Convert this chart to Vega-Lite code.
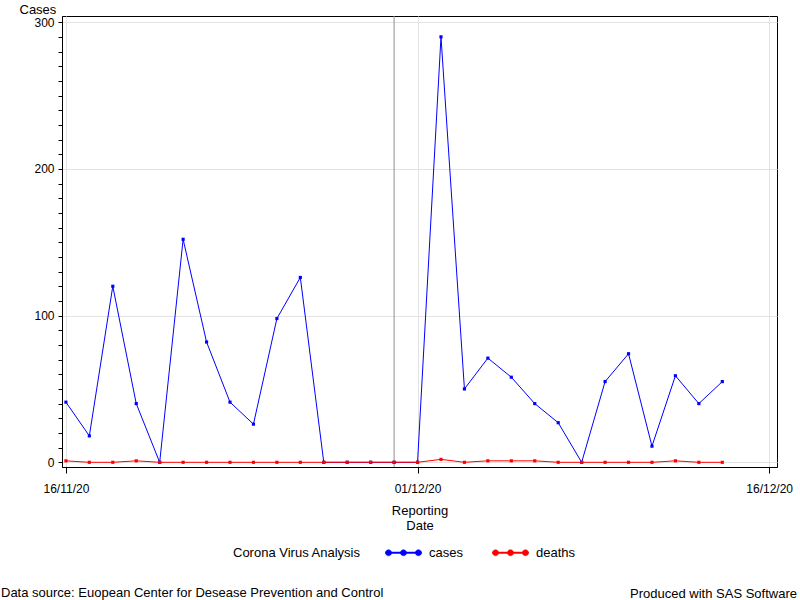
{
  "$schema": "https://vega.github.io/schema/vega-lite/v6.json",
  "width": 715,
  "height": 451,
  "autosize": {"type": "none"},
  "padding": {"left": 62, "top": 16, "right": 23, "bottom": 133},
  "background": "white",
  "config": {
    "font": "Liberation Sans",
    "view": {"stroke": "black", "strokeWidth": 1},
    "axis": {
      "domainColor": "black",
      "tickColor": "black",
      "labelColor": "black",
      "titleColor": "black",
      "labelFont": "Liberation Sans",
      "titleFont": "Liberation Sans",
      "labelFontSize": 12,
      "titleFontSize": 13,
      "titleFontWeight": "normal",
      "gridColor": "#e3e3e3"
    },
    "legend": {
      "labelFont": "Liberation Sans",
      "titleFont": "Liberation Sans"
    }
  },
  "title": {
    "text": "Data source: Euopean Center for Desease Prevention and Control",
    "orient": "bottom",
    "anchor": "start",
    "frame": "bounds",
    "font": "Liberation Sans",
    "fontSize": 13,
    "fontWeight": "normal",
    "color": "black",
    "offset": -14,
    "dx": -18
  },
  "data": {
    "values": [
      {"date": "2020/11/16", "series": "cases", "value": 41},
      {"date": "2020/11/17", "series": "cases", "value": 18},
      {"date": "2020/11/18", "series": "cases", "value": 120},
      {"date": "2020/11/19", "series": "cases", "value": 40},
      {"date": "2020/11/20", "series": "cases", "value": 0},
      {"date": "2020/11/21", "series": "cases", "value": 152},
      {"date": "2020/11/22", "series": "cases", "value": 82},
      {"date": "2020/11/23", "series": "cases", "value": 41},
      {"date": "2020/11/24", "series": "cases", "value": 26},
      {"date": "2020/11/25", "series": "cases", "value": 98},
      {"date": "2020/11/26", "series": "cases", "value": 126},
      {"date": "2020/11/27", "series": "cases", "value": 0},
      {"date": "2020/11/28", "series": "cases", "value": 0},
      {"date": "2020/11/29", "series": "cases", "value": 0},
      {"date": "2020/11/30", "series": "cases", "value": 0},
      {"date": "2020/12/01", "series": "cases", "value": 0},
      {"date": "2020/12/02", "series": "cases", "value": 290},
      {"date": "2020/12/03", "series": "cases", "value": 50},
      {"date": "2020/12/04", "series": "cases", "value": 71},
      {"date": "2020/12/05", "series": "cases", "value": 58},
      {"date": "2020/12/06", "series": "cases", "value": 40},
      {"date": "2020/12/07", "series": "cases", "value": 27},
      {"date": "2020/12/08", "series": "cases", "value": 0},
      {"date": "2020/12/09", "series": "cases", "value": 55},
      {"date": "2020/12/10", "series": "cases", "value": 74},
      {"date": "2020/12/11", "series": "cases", "value": 11},
      {"date": "2020/12/12", "series": "cases", "value": 59},
      {"date": "2020/12/13", "series": "cases", "value": 40},
      {"date": "2020/12/14", "series": "cases", "value": 55},
      {"date": "2020/11/16", "series": "deaths", "value": 1},
      {"date": "2020/11/17", "series": "deaths", "value": 0},
      {"date": "2020/11/18", "series": "deaths", "value": 0},
      {"date": "2020/11/19", "series": "deaths", "value": 1},
      {"date": "2020/11/20", "series": "deaths", "value": 0},
      {"date": "2020/11/21", "series": "deaths", "value": 0},
      {"date": "2020/11/22", "series": "deaths", "value": 0},
      {"date": "2020/11/23", "series": "deaths", "value": 0},
      {"date": "2020/11/24", "series": "deaths", "value": 0},
      {"date": "2020/11/25", "series": "deaths", "value": 0},
      {"date": "2020/11/26", "series": "deaths", "value": 0},
      {"date": "2020/11/27", "series": "deaths", "value": 0},
      {"date": "2020/11/28", "series": "deaths", "value": 0},
      {"date": "2020/11/29", "series": "deaths", "value": 0},
      {"date": "2020/11/30", "series": "deaths", "value": 0},
      {"date": "2020/12/01", "series": "deaths", "value": 0},
      {"date": "2020/12/02", "series": "deaths", "value": 2},
      {"date": "2020/12/03", "series": "deaths", "value": 0},
      {"date": "2020/12/04", "series": "deaths", "value": 1},
      {"date": "2020/12/05", "series": "deaths", "value": 1},
      {"date": "2020/12/06", "series": "deaths", "value": 1},
      {"date": "2020/12/07", "series": "deaths", "value": 0},
      {"date": "2020/12/08", "series": "deaths", "value": 0},
      {"date": "2020/12/09", "series": "deaths", "value": 0},
      {"date": "2020/12/10", "series": "deaths", "value": 0},
      {"date": "2020/12/11", "series": "deaths", "value": 0},
      {"date": "2020/12/12", "series": "deaths", "value": 1},
      {"date": "2020/12/13", "series": "deaths", "value": 0},
      {"date": "2020/12/14", "series": "deaths", "value": 0}
    ]
  },
  "encoding": {
    "x": {
      "field": "date",
      "type": "temporal",
      "scale": {
        "domain": [
          {"year": 2020, "month": 11, "date": 15, "hours": 20},
          {"year": 2020, "month": 12, "date": 16, "hours": 8}
        ]
      },
      "axis": {
        "values": [
          {"year": 2020, "month": 11, "date": 16},
          {"year": 2020, "month": 12, "date": 1},
          {"year": 2020, "month": 12, "date": 16}
        ],
        "format": "%d/%m/%y",
        "tickSize": 6,
        "labelPadding": 10,
        "labelOverlap": false,
        "title": ["Reporting", "Date"],
        "titleLineHeight": 15,
        "titlePadding": 10,
        "grid": true
      }
    },
    "y": {
      "field": "value",
      "type": "quantitative",
      "scale": {"domain": [-3.2, 304.2], "nice": false, "zero": false},
      "axis": {
        "values": [0, 10, 20, 30, 40, 50, 60, 70, 80, 90, 100, 110, 120, 130, 140, 150, 160, 170, 180, 190, 200, 210, 220, 230, 240, 250, 260, 270, 280, 290, 300],
        "labelExpr": "datum.value % 100 === 0 ? datum.label : ''",
        "tickSize": 4,
        "labelPadding": 4,
        "grid": true,
        "gridOpacity": {"condition": {"test": "datum.value % 100 === 0", "value": 1}, "value": 0},
        "title": "Cases",
        "titleAngle": 0,
        "titleAlign": "left",
        "titleBaseline": "alphabetic",
        "titleX": -43,
        "titleY": -3
      }
    }
  },
  "layer": [
    {
      "data": {"values": [{"date": "2020/11/30"}]},
      "mark": {"type": "rule", "color": "#8f8f8f", "strokeWidth": 1},
      "encoding": {"y": null}
    },
    {
      "mark": {"type": "line", "strokeWidth": 1},
      "encoding": {
        "color": {
          "field": "series",
          "type": "nominal",
          "scale": {"domain": ["cases", "deaths"], "range": ["#0000ff", "#ff0000"]},
          "legend": {
            "title": "Corona Virus Analysis",
            "orient": "none",
            "direction": "horizontal",
            "legendX": 171,
            "legendY": 518,
            "titleOrient": "left",
            "titleFontSize": 13,
            "titleFontWeight": "normal",
            "titleColor": "black",
            "titlePadding": 24,
            "titleBaseline": "top",
            "labelFontSize": 13,
            "labelColor": "black",
            "labelOffset": 7,
            "columnPadding": 28,
            "symbolSize": 1296,
            "symbolType": "M-1,-0.04H1V0.04H-1Z M-0.66,0A0.17,0.17,0,1,1,-1,0A0.17,0.17,0,1,1,-0.66,0Z M0.17,0A0.17,0.17,0,1,1,-0.17,0A0.17,0.17,0,1,1,0.17,0Z M1,0A0.17,0.17,0,1,1,0.66,0A0.17,0.17,0,1,1,1,0Z",
            "symbolOpacity": 1,
            "encode": {
              "symbols": {
                "update": {
                  "fill": {"scale": "color", "field": "value"},
                  "stroke": {"scale": "color", "field": "value"},
                  "strokeWidth": {"value": 0.5}
                }
              }
            }
          }
        }
      }
    },
    {
      "mark": {"type": "point", "filled": true, "shape": "square", "size": 10, "opacity": 1},
      "encoding": {
        "color": {
          "field": "series",
          "type": "nominal",
          "scale": {"domain": ["cases", "deaths"], "range": ["#0000ff", "#ff0000"]}
        }
      }
    },
    {
      "data": {"values": [{"note": "Produced with SAS Software"}]},
      "mark": {
        "type": "text",
        "x": "width",
        "y": "height",
        "dx": 20,
        "dy": 131,
        "align": "right",
        "baseline": "alphabetic",
        "font": "Liberation Sans",
        "fontSize": 13,
        "color": "black"
      },
      "encoding": {"x": null, "y": null, "text": {"field": "note"}}
    }
  ]
}
